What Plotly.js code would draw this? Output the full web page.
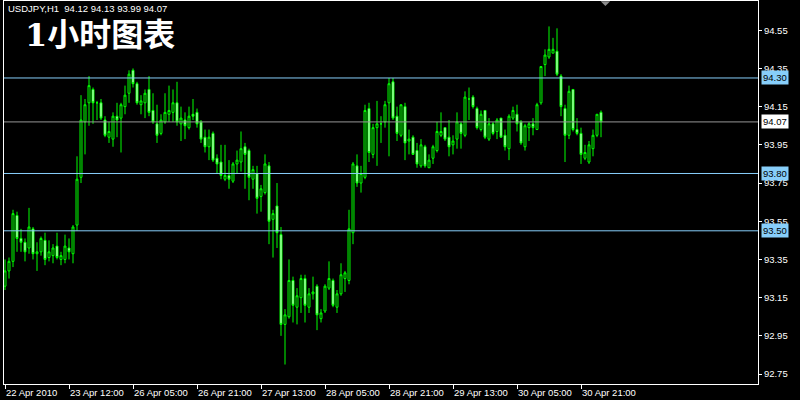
<!DOCTYPE html>
<html><head><meta charset="utf-8">
<script src="https://cdn.plot.ly/plotly-3.0.1.min.js"></script>
<style>html,body{margin:0;padding:0;background:#000;}#chart{width:800px;height:400px;}</style>
</head><body><div id="chart"></div>
<script>
// Hourly bars, USDJPY H1, 22 Apr 2010 – 30 Apr 2010
const openP=[93.21,93.29,93.34,93.58,93.46,93.44,93.41,93.51,93.38,93.39,
93.45,93.36,93.37,93.42,93.35,93.35,93.41,93.38,93.53,93.78,
94.07,94.17,94.24,94.17,94.17,94.08,93.99,93.98,94.10,94.09,
94.15,94.22,94.34,94.27,94.16,94.17,94.24,94.13,94.06,94.01,
94.07,94.11,94.12,94.17,94.06,94.08,94.04,94.11,94.12,94.07,
93.99,93.94,94.01,93.88,93.86,93.77,93.79,93.76,93.85,93.86,
93.94,93.92,93.77,93.80,93.68,93.70,93.84,93.56,93.63,93.48,
93.01,93.05,93.24,93.10,93.15,93.25,93.10,93.17,93.21,93.04,
93.08,93.20,93.24,93.10,93.17,93.25,93.24,93.49,93.84,93.75,
93.78,94.14,93.90,94.04,94.06,94.07,94.17,94.28,94.10,94.00,
94.15,93.97,93.99,93.92,93.84,93.94,93.83,93.88,93.92,94.00,
94.04,93.99,93.95,93.98,94.06,94.00,94.19,94.20,94.14,94.03,
94.13,93.98,94.06,94.02,94.09,94.00,93.93,94.09,94.11,94.07,
93.94,94.04,94.06,94.03,94.17,94.37,94.41,94.43,94.44,94.31,
94.14,94.00,94.24,94.03,94.01,93.88,93.86,93.93,94.00,94.12];
const highP=[93.35,93.36,93.61,93.60,93.51,93.46,93.62,93.52,93.44,93.47,
93.49,93.45,93.43,93.49,93.39,93.48,93.46,93.53,93.89,94.21,
94.19,94.31,94.25,94.18,94.19,94.10,94.07,94.12,94.17,94.17,
94.26,94.34,94.35,94.28,94.21,94.24,94.31,94.22,94.16,94.11,
94.22,94.26,94.24,94.28,94.15,94.12,94.15,94.19,94.14,94.08,
94.03,94.03,94.02,93.90,93.95,93.95,93.87,93.86,93.92,94.02,
93.96,93.93,93.84,93.84,93.74,93.90,93.86,93.61,93.75,93.52,
93.09,93.35,93.26,93.20,93.27,93.27,93.20,93.26,93.22,93.09,
93.22,93.34,93.25,93.19,93.33,93.29,93.61,93.86,93.90,93.84,
94.16,94.17,94.06,94.18,94.10,94.18,94.30,94.30,94.15,94.16,
94.17,94.03,94.00,93.96,93.98,93.95,93.90,93.95,94.07,94.12,
94.04,94.08,94.00,94.12,94.07,94.23,94.25,94.21,94.15,94.13,
94.13,94.09,94.07,94.09,94.09,94.03,94.11,94.15,94.16,94.08,
94.06,94.07,94.09,94.17,94.36,94.45,94.57,94.51,94.56,94.32,
94.16,94.26,94.24,94.09,94.04,93.95,93.97,94.03,94.11,94.13];
const lowP=[93.19,93.25,93.31,93.39,93.39,93.34,93.38,93.35,93.29,93.37,
93.32,93.34,93.33,93.35,93.32,93.33,93.35,93.33,93.50,93.75,
93.90,94.05,94.06,94.08,94.08,93.99,93.96,93.94,93.99,93.91,
94.11,94.17,94.25,94.16,94.11,94.09,94.10,94.06,93.96,94.00,
94.06,94.07,94.07,94.05,93.97,93.98,94.03,94.08,94.04,93.96,
93.91,93.87,93.86,93.80,93.77,93.76,93.72,93.75,93.80,93.81,
93.72,93.66,93.72,93.59,93.60,93.69,93.43,93.36,93.41,92.95,
92.80,93.04,93.02,93.01,93.07,93.02,93.07,93.14,92.98,93.02,
93.07,93.19,93.10,93.07,93.16,93.18,93.22,93.43,93.73,93.70,
93.77,93.86,93.88,93.84,93.96,94.04,93.89,94.08,93.97,93.99,
93.87,93.90,93.90,93.83,93.83,93.83,93.83,93.85,93.91,93.99,
93.97,93.89,93.90,93.93,93.93,93.99,94.08,94.14,94.03,94.02,
93.98,93.97,94.00,93.98,93.99,93.92,93.87,94.08,94.02,93.95,
93.92,93.97,94.00,94.03,94.16,94.31,94.40,94.43,94.31,94.10,
93.86,93.98,94.02,94.00,93.85,93.87,93.85,93.89,93.99,93.99];
const closeP=[93.29,93.34,93.59,93.46,93.44,93.39,93.52,93.38,93.39,93.46,
93.35,93.39,93.41,93.36,93.37,93.42,93.39,93.52,93.77,94.08,
94.16,94.26,94.17,94.17,94.09,94.00,94.02,94.10,94.08,94.16,
94.21,94.32,94.27,94.17,94.18,94.22,94.12,94.07,94.00,94.08,
94.12,94.13,94.17,94.07,94.09,94.05,94.10,94.10,94.06,93.98,
93.94,93.99,93.87,93.85,93.79,93.79,93.77,93.85,93.87,93.93,
93.90,93.78,93.82,93.67,93.72,93.85,93.55,93.59,93.49,93.01,
93.06,93.24,93.11,93.16,93.25,93.11,93.17,93.18,93.06,93.07,
93.21,93.25,93.11,93.17,93.27,93.28,93.51,93.85,93.75,93.80,
94.13,93.91,94.04,94.06,94.06,94.16,94.27,94.09,94.01,94.16,
93.96,93.98,93.90,93.85,93.95,93.84,93.87,93.94,94.02,94.02,
93.98,93.94,93.97,94.07,94.01,94.20,94.19,94.15,94.04,94.11,
93.99,94.06,94.01,94.08,93.99,93.94,94.10,94.13,94.06,93.96,
94.05,94.06,94.04,94.16,94.36,94.42,94.45,94.45,94.32,94.15,
94.00,94.23,94.03,94.01,93.90,93.91,93.95,94.00,94.11,94.07];

const xTickIdx=[0,16,32,48,64,80,96,112,128,144];
const xTickLabels=["22 Apr 2010","23 Apr 12:00","26 Apr 05:00","26 Apr 21:00","27 Apr 13:00",
  "28 Apr 05:00","28 Apr 21:00","29 Apr 13:00","30 Apr 05:00","30 Apr 21:00"];
const yTicks=[92.75,92.95,93.15,93.35,93.55,93.75,93.95,94.15,94.35,94.55];
const levelLines=[94.30,93.80,93.50];
const bidLevel=94.07;
const symbolTitle="USDJPY,H1";
const lastOHLC=[94.12,94.13,93.99,94.07];
const bigTitle="1小时图表";

const barIdx=openP.map((_,i)=>i);
const FONT="Liberation Sans, Arial, sans-serif";
const GREEN="#00ff00", LEVEL="#87cefa", BID="#969696";

const trace={
  type:"candlestick", x:barIdx, open:openP, high:highP, low:lowP, close:closeP,
  increasing:{line:{color:GREEN,width:1},fillcolor:"#000000"},
  decreasing:{line:{color:GREEN,width:1},fillcolor:"#ffffff"},
  whiskerwidth:0, hoverinfo:"skip", showlegend:false
};

const shapes=levelLines.map(v=>({type:"line",xref:"paper",x0:0,x1:1,yref:"y",y0:v,y1:v,
  line:{color:LEVEL,width:1}}));
shapes.push({type:"line",xref:"paper",x0:0,x1:1,yref:"y",y0:bidLevel,y1:bidLevel,line:{color:BID,width:1}});
// chart-shift marker
shapes.push({type:"path",xref:"x",yref:"y",path:"M 148.9 94.702 L 151.3 94.702 L 150.1 94.677 Z",
  fillcolor:"#8c8c8c",line:{width:0}});

const annotations=levelLines.map(v=>({xref:"paper",x:1,xanchor:"left",xshift:3,yref:"y",y:v,
  text:v.toFixed(2),showarrow:false,bgcolor:LEVEL,borderpad:1,font:{family:FONT,size:9.5,color:"#000"}}));
annotations.push({xref:"paper",x:1,xanchor:"left",xshift:3,yref:"y",y:bidLevel,
  text:bidLevel.toFixed(2),showarrow:false,bgcolor:"#ffffff",borderpad:1,font:{family:FONT,size:9.5,color:"#000"}});
annotations.push({xref:"paper",yref:"paper",x:0.003,y:0.9804,xanchor:"left",yanchor:"middle",showarrow:false,
  text:symbolTitle+"\u00a0\u00a0"+lastOHLC.map(v=>v.toFixed(2)).join(" "),
  font:{family:FONT,size:9.5,color:"#ffffff"}});
annotations.push({xref:"paper",yref:"paper",x:0.025,y:0.911,xanchor:"left",yanchor:"middle",showarrow:false,
  text:bigTitle,font:{family:"DejaVu Serif, Noto Sans CJK SC, serif",size:32,color:"#ffffff",weight:"bold"}});

const layout={
  width:800,height:400,
  margin:{l:4,r:42,t:1,b:16,pad:0},
  paper_bgcolor:"#000000",plot_bgcolor:"#000000",
  showlegend:false,
  xaxis:{range:[-0.25,188.25],tickmode:"array",tickvals:xTickIdx,ticktext:xTickLabels,
    ticks:"outside",ticklen:4,tickcolor:"#ffffff",ticklabelposition:"outside right",
    tickfont:{family:FONT,size:9.5,color:"#ffffff"},
    showline:true,linecolor:"#ffffff",linewidth:1,mirror:true,
    showgrid:false,zeroline:false,rangeslider:{visible:false},fixedrange:true},
  yaxis:{side:"right",range:[92.698,94.703],tickmode:"array",tickvals:yTicks,
    ticktext:yTicks.map(v=>v.toFixed(2)),ticks:"outside",ticklen:3,tickcolor:"#ffffff",
    tickfont:{family:FONT,size:9.5,color:"#ffffff"},
    showline:true,linecolor:"#ffffff",linewidth:1,mirror:true,
    showgrid:false,zeroline:false,fixedrange:true},
  shapes:shapes,annotations:annotations
};
Plotly.newPlot("chart",[trace],layout,{staticPlot:true,displayModeBar:false});
</script></body></html>
